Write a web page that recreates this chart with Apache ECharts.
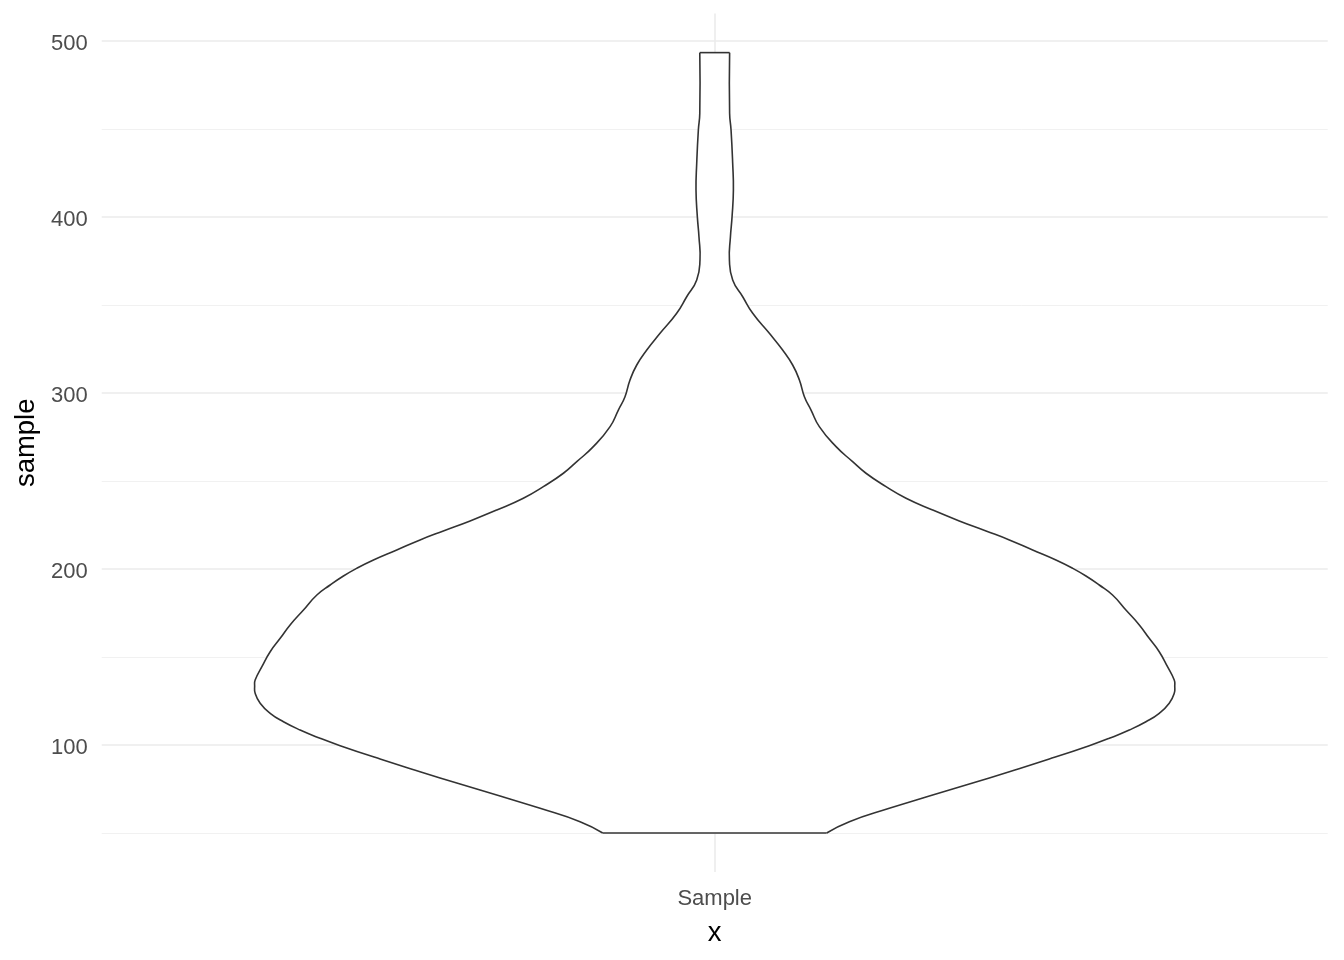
<!DOCTYPE html>
<html>
<head>
<meta charset="utf-8">
<script src="https://cdn.jsdelivr.net/npm/echarts@6/dist/echarts.min.js"></script>
<style>
  html, body { margin: 0; padding: 0; background: #ffffff; }
  #chart { width: 1344px; height: 960px; }
</style>
</head>
<body>
<div id="chart"></div>
<script>
// ---- data ----
const categories = ['Sample'];
const categoryPosition = [1];
// sample values along the violin outline
const sampleValues = [50, 56.4, 64.0, 71.0, 77.8, 84.8, 92.0, 99.6, 103.8, 108.5, 113.2, 118.0,
  123.7, 129.4, 133.5, 136.9, 144.5, 153.0, 160.6, 168.2, 176.7, 185.2, 190.9, 196.0, 200.4,
  205.1, 210.8, 216.5, 221.6, 227.3, 233.5, 240.2, 246.8, 254.4, 261.0, 269.5, 280.9, 290.3,
  297.9, 307.4, 315.9, 324.4, 333.9, 345.3, 354.7, 364.2, 375.6, 388.8, 400.2, 415.3, 430.5,
  449.4, 458.9, 493.4];
// violin half-widths (x units) at those values
const halfWidths = [0.1096, 0.1318, 0.1709, 0.2101, 0.2492, 0.2884, 0.3275, 0.3666, 0.3862,
  0.4058, 0.4221, 0.4351, 0.4449, 0.4498, 0.4503, 0.4498, 0.4432, 0.4351, 0.4253, 0.4156,
  0.4025, 0.3894, 0.3764, 0.3634, 0.3503, 0.3340, 0.3112, 0.2884, 0.2656, 0.2394, 0.2133,
  0.1873, 0.1677, 0.1481, 0.1350, 0.1188, 0.1024, 0.0943, 0.0878, 0.0829, 0.0763, 0.0665,
  0.0535, 0.0372, 0.0274, 0.0176, 0.0144, 0.0154, 0.0170, 0.0183, 0.0176, 0.0160, 0.0146,
  0.0146];
const yMajorTicks = [100, 200, 300, 400, 500];
const yMinorTicks = [50, 150, 250, 350, 450];
const yLimits = [27.83, 515.57];
const xLimits = [0.4, 1.6];

const FONT = '"Liberation Sans", Arial, sans-serif';
const chart = echarts.init(document.getElementById('chart'), null, { renderer: 'canvas' });

function violinRender(params, api) {
  const cx = categoryPosition[0];
  const right = sampleValues.map((v, i) => api.coord([cx + halfWidths[i], v]));
  const left = sampleValues.map((v, i) => api.coord([cx - halfWidths[i], v]));
  const polygonPts = right.concat(left.slice().reverse());
  const stroke = { stroke: '#333333', lineWidth: 1.6, fill: null };
  const n = sampleValues.length - 1;
  return {
    type: 'group',
    children: [
      { type: 'polygon', shape: { points: polygonPts }, style: { fill: '#ffffff', stroke: '#ffffff', lineWidth: 1 } },
      { type: 'polyline', shape: { points: right, smooth: 0.5 }, style: stroke },
      { type: 'polyline', shape: { points: left, smooth: 0.5 }, style: stroke },
      { type: 'line', shape: { x1: left[0][0], y1: left[0][1], x2: right[0][0], y2: right[0][1] }, style: stroke },
      { type: 'line', shape: { x1: left[n][0], y1: left[n][1], x2: right[n][0], y2: right[n][1] }, style: stroke }
    ]
  };
}

const option = {
  backgroundColor: '#ffffff',
  animation: false,
  grid: { left: 101.7, right: 16.3, top: 13.6, bottom: 88, containLabel: false },
  xAxis: {
    type: 'value',
    min: xLimits[0], max: xLimits[1], interval: 0.2,
    axisLine: { show: false }, axisTick: { show: false },
    splitLine: { show: false },
    axisLabel: {
      color: '#4d4d4d', fontSize: 22, fontFamily: FONT, margin: 16,
      showMinLabel: false, showMaxLabel: false,
      formatter: function (v) {
        for (let i = 0; i < categoryPosition.length; i++) {
          if (Math.abs(v - categoryPosition[i]) < 1e-6) return categories[i];
        }
        return '';
      }
    },
    name: 'x', nameLocation: 'middle', nameGap: 47,
    nameTextStyle: { color: '#000000', fontSize: 27.5, fontFamily: FONT }
  },
  yAxis: {
    type: 'value',
    min: yLimits[0], max: yLimits[1],
    axisLine: { show: false }, axisTick: { show: false },
    splitLine: { show: true, showMinLine: false, showMaxLine: false, lineStyle: { color: '#ebebeb', width: 1.6 } },
    axisLabel: { margin: 14,
      showMinLabel: false, showMaxLabel: false,
      rich: { t: { color: '#4d4d4d', fontSize: 22, fontFamily: FONT, padding: [6, 0, 0, 0] } },
      formatter: function (v) {
        const r = Math.round(v);
        return (yMajorTicks.indexOf(r) >= 0 && Math.abs(v - r) < 1e-6) ? '{t|' + r + '}' : '';
      } },
    name: 'sample', nameLocation: 'middle', nameGap: 53,
    nameTextStyle: { color: '#000000', fontSize: 27.5, fontFamily: FONT }
  },
  series: [
    {
      type: 'line', data: [], z: 1, silent: true,
      markLine: {
        z: 1, silent: true, symbol: ['none', 'none'], label: { show: false }, animation: false,
        data: yMinorTicks.map(v => ({ yAxis: v, lineStyle: { color: '#f1f1f1', width: 1, type: 'solid' } }))
          .concat(categoryPosition.map(x => ({ xAxis: x, lineStyle: { color: '#ebebeb', width: 1.6, type: 'solid' } })))
      }
    },
    {
      type: 'custom', z: 10, silent: true,
      renderItem: violinRender,
      data: [[categoryPosition[0], sampleValues[0]]],
      clip: false
    }
  ]
};
chart.setOption(option);
</script>
</body>
</html>
